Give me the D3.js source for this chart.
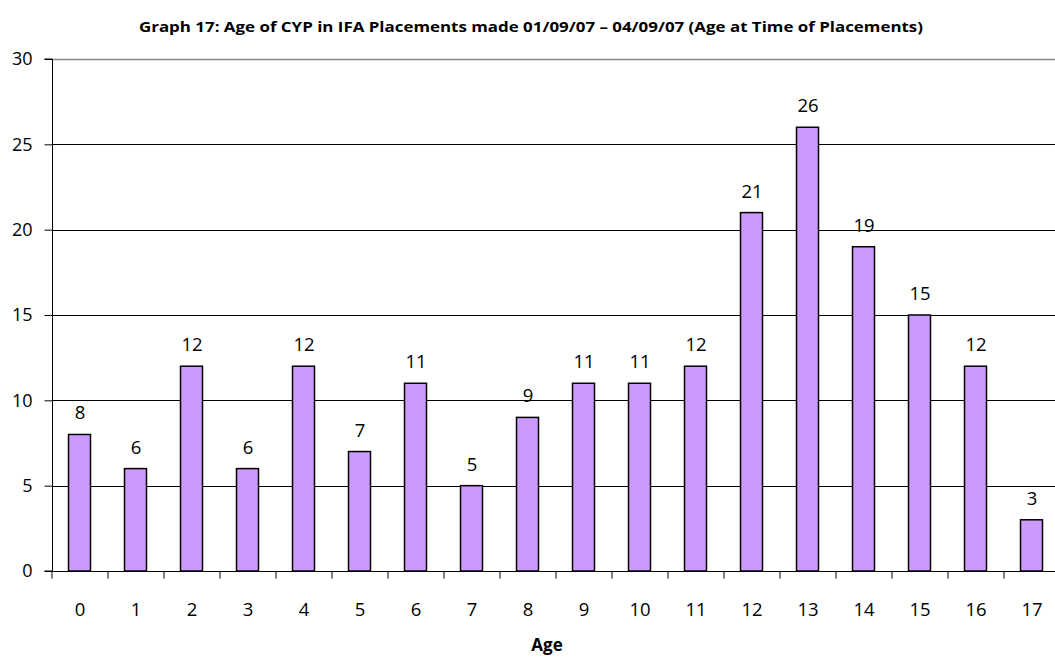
<!DOCTYPE html>
<html><head><meta charset="utf-8">
<script src="https://cdn.jsdelivr.net/npm/d3@7"></script>
<style>body{margin:0;background:#fff;overflow:hidden}svg{display:block}</style>
</head><body>
<svg id="c" width="1055" height="664"></svg>
<script>
const categories = ["0","1","2","3","4","5","6","7","8","9","10","11","12","13","14","15","16","17"];
const values = [8,6,12,6,12,7,11,5,9,11,11,12,21,26,19,15,12,3];
const yTicks = [0,5,10,15,20,25,30];
const title = "Graph 17: Age of CYP in IFA Placements made 01/09/07 \u2013 04/09/07 (Age at Time of Placements)";
const xTitle = "Age";

const svg = d3.select("#c");
const font = "'Open Sans', sans-serif";
const L = 52, R = 1060, T = 59, B = 571;
const xb = d3.scaleBand().domain(categories).range([L, R]);
const y = d3.scaleLinear().domain([0, 30]).range([B, T]);

// gridlines
svg.append("g").selectAll("line").data(yTicks.filter(d => d > 0)).join("line")
  .attr("x1", L).attr("x2", R).attr("y1", d => Math.round(y(d)) + 0.5).attr("y2", d => Math.round(y(d)) + 0.5)
  .attr("stroke", d => d === 30 ? "#888" : "#000").attr("stroke-width", d => d === 30 ? 1.5 : 1);

// bars
svg.append("g").selectAll("rect").data(values).join("rect")
  .attr("x", (d, i) => xb(categories[i]) + xb.bandwidth() / 2 - 11.5)
  .attr("width", 22)
  .attr("y", d => y(d)).attr("height", d => B - y(d))
  .attr("fill", "#CC99FF").attr("stroke", "#000").attr("stroke-width", 1.5);

// value labels
svg.append("g").selectAll("text").data(values).join("text")
  .attr("x", (d, i) => xb(categories[i]) + xb.bandwidth() / 2)
  .attr("y", d => y(d) - 15)
  .attr("text-anchor", "middle").attr("font-family", font).attr("font-size", 18.5).attr("fill", "#000")
  .text(d => d);

// y axis
const ya = d3.axisLeft(y).tickValues(yTicks).tickSize(8).tickPadding(12);
const gy = svg.append("g").attr("transform", `translate(${L + 0.5},0)`).call(ya);
gy.select(".domain").attr("stroke", "#000").attr("d", `M-8,${y(30)}H0V${B}H-8`);
gy.selectAll("text").attr("font-family", font).attr("font-size", 18).attr("fill", "#000");

// x axis
const gx = svg.append("g").attr("transform", `translate(0,${B + 0.5})`);
gx.append("line").attr("x1", L).attr("x2", R).attr("stroke", "#000").attr("stroke-width", 1.2);
gx.selectAll(".tk").data(categories.concat(["end"])).join("line").attr("class", "tk")
  .attr("x1", (d, i) => L + i * xb.bandwidth()).attr("x2", (d, i) => L + i * xb.bandwidth())
  .attr("y1", 0).attr("y2", 7).attr("stroke", "#000");
gx.selectAll("text").data(categories).join("text")
  .attr("x", d => xb(d) + xb.bandwidth() / 2).attr("y", 44)
  .attr("text-anchor", "middle").attr("font-family", font).attr("font-size", 18.5).attr("fill", "#000")
  .text(d => d);

// titles
svg.append("text").attr("x", 531).attr("y", 32).attr("text-anchor", "middle")
  .attr("font-family", font).attr("font-weight", "bold").attr("font-size", 13.5)
  .attr("textLength", 784).attr("lengthAdjust", "spacingAndGlyphs").text(title);
svg.append("text").attr("x", 547).attr("y", 651).attr("text-anchor", "middle")
  .attr("font-family", font).attr("font-weight", "bold").attr("font-size", 17).text(xTitle);
</script>
</body></html>
